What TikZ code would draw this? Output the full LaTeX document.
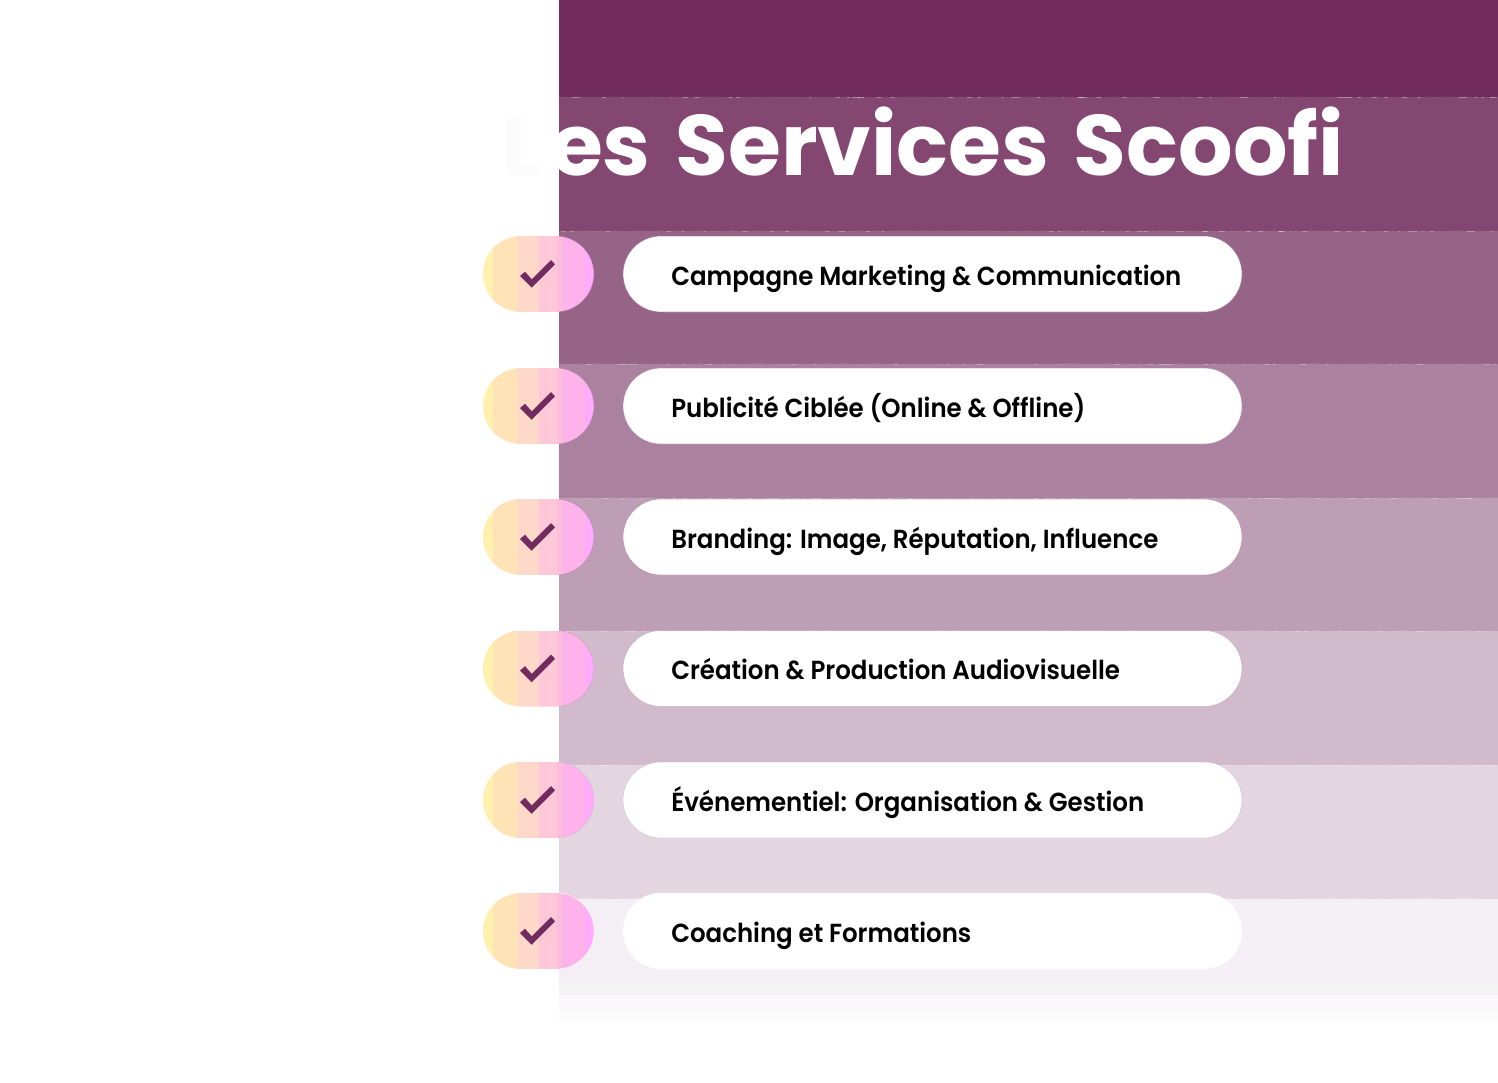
\documentclass[tikz,border=0pt]{standalone}
\usepackage{fontspec}
\usetikzlibrary{decorations.pathmorphing}
\setmainfont{Poppins}[UprightFont=* SemiBold,BoldFont=* Bold,FakeStretch=0.937]
\newfontfamily\titlefont{Poppins}[UprightFont=* Bold]
\definecolor{tick}{HTML}{722B5E}
\definecolor{bA}{HTML}{722B5E}
\definecolor{bB}{HTML}{844771}
\definecolor{bC}{HTML}{966487}
\definecolor{bD}{HTML}{AA819E}
\definecolor{bE}{HTML}{BD9EB5}
\definecolor{bF}{HTML}{D1BACB}
\definecolor{bG}{HTML}{E3D6E1}
\definecolor{bH}{HTML}{F4EFF4}
\definecolor{bI}{HTML}{F6F3F7}
\definecolor{bJ}{HTML}{FAF8FA}
\definecolor{bK}{HTML}{FDFCFD}
\definecolor{edgeF}{HTML}{FAF7FA}
\definecolor{sA}{HTML}{FFF0AE}
\definecolor{sB}{HTML}{FEE3B7}
\definecolor{sC}{HTML}{FED8C8}
\definecolor{sD}{HTML}{FEC8D8}
\definecolor{sG}{HTML}{FDBDDB}
\definecolor{sE}{HTML}{FDB3EA}
\definecolor{sF}{HTML}{FFABFC}
\definecolor{faintL}{HTML}{FCFCFC}
\tikzset{
  x=0.75pt,y=-0.75pt,
  rough/.style={decoration={random steps,segment length=3pt,amplitude=0.4pt}},
  lbl/.style={font=\fontsize{19.6pt}{24pt}\selectfont,text=black,anchor=base west,inner sep=0pt},
  ttl/.style={font=\titlefont\fontsize{64.3pt}{72pt}\selectfont,text=white,anchor=base west,inner sep=0pt},
  whitepill/.style={fill=white,draw=#1,draw opacity=0.6,line width=0.5pt,rounded corners=28.5pt},
}
\newcommand{\bandrow}[3]{\fill[#1,rough] decorate{(559,#2)--(1498,#2)} -- (1498,#3) -- (559,#3) -- cycle;}
\begin{document}
\begin{tikzpicture}
\useasboundingbox (0,0) rectangle (1498,1082);
\fill[white] (0,0) rectangle (1498,1082);
\fill[bA] (559,0) rectangle (1498,97);
\bandrow{bB}{97}{231}
\bandrow{bC}{231}{364}
\bandrow{bD}{364}{498}
\bandrow{bE}{498}{631}
\bandrow{bF}{631}{765}
\bandrow{bG}{765}{899}
\bandrow{bH}{899}{983}
\fill[bI] (559,983) rectangle (1498,995);
\fill[bJ] (559,995) rectangle (1498,1010);
\fill[bK] (559,1010) rectangle (1498,1022);
\node[ttl] (title) at (501.5,175) {\textcolor{faintL}{L}\kern5.6pt es\hspace{4.9pt} Services\hspace{4.9pt} Scoofi};
\foreach \i/\yc/\edge/\txt in {
  1/274/bC/{Campagne Marketing \& Communication},
  2/406/bD/{Publicité Ciblée (Online \& Offline)},
  3/537/bD/{Branding: Image, Réputation, Influence},
  4/668.5/bE/{Création \& Production Audiovisuelle},
  5/800/bF/{Événementiel: Organisation \& Gestion},
  6/931/edgeF/{Coaching et Formations}}{
  \begin{scope}
    \clip[rounded corners=28.5pt] (483,\yc-38) rectangle (594,\yc+38);
    \fill[sA] (483,\yc-38) rectangle (493,\yc+38);
    \fill[sB] (493,\yc-38) rectangle (517,\yc+38);
    \fill[sC] (517,\yc-38) rectangle (539,\yc+38);
    \fill[sD] (539,\yc-38) rectangle (557,\yc+38);
    \fill[sG] (557,\yc-38) rectangle (562,\yc+38);
    \fill[sE] (562,\yc-38) rectangle (585,\yc+38);
    \fill[sF] (585,\yc-38) rectangle (594,\yc+38);
  \end{scope}
  \begin{scope}
    \clip (559,\yc-45) rectangle (610,\yc+45);
    \draw[\edge,draw opacity=0.6,line width=0.5pt,rounded corners=28.5pt] (483,\yc-38) rectangle (594,\yc+38);
  \end{scope}
  \fill[tick] (520,\yc+2) -- (525,\yc-2.3) -- (531.7,\yc+5.3) -- (551,\yc-14) -- (555,\yc-9.7) -- (531.7,\yc+13.7) -- cycle;
  \path[whitepill=\edge] (623,\yc-38) rectangle (1242,\yc+38);
  \node[lbl] (item\i) at (671,\yc+11) {\txt};
}
\end{tikzpicture}
\end{document}
